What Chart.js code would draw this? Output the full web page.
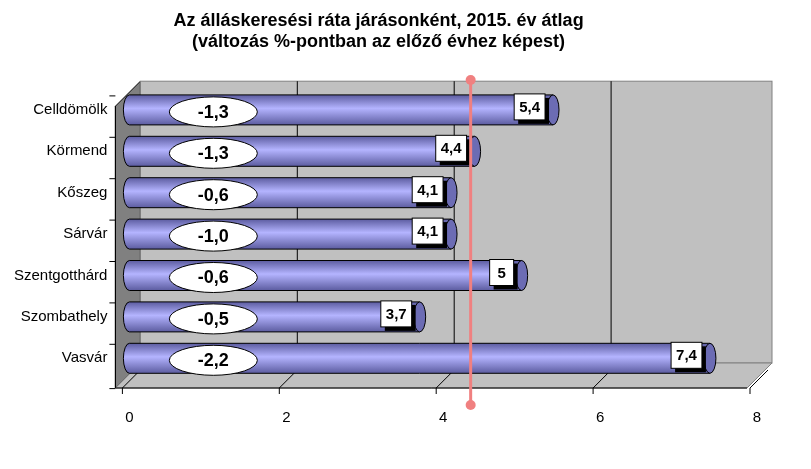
<!DOCTYPE html><html><head><meta charset="utf-8">
<script src="https://cdn.jsdelivr.net/npm/chart.js@4"></script>
<style>body{margin:0;background:#fff}#w{width:811px;height:469px}</style></head><body><div id="w"><canvas id="c"></canvas></div>
<script>
const categories=['Celldömölk','Körmend','Kőszeg','Sárvár','Szentgotthárd','Szombathely','Vasvár'];
const values=[5.4,4.4,4.1,4.1,5,3.7,7.4];
const valueLabels=['5,4','4,4','4,1','4,1','5','3,7','7,4'];
const changeLabels=['-1,3','-1,3','-0,6','-1,0','-0,6','-0,5','-2,2'];
const averageLine=[4.35];
const xTicks=[0,2,4,6,8];
const DEP=25;
const deco={id:'deco',
beforeDatasetsDraw(ch){const c=ch.ctx,a=ch.chartArea,x=ch.scales.x;c.save();
 const L=x.getPixelForValue(0)-7+DEP-7,R=x.getPixelForValue(8)+15,T=a.top-8,B=a.bottom-16;
 c.fillStyle='#808080';c.beginPath();c.moveTo(L-DEP,T+DEP);c.lineTo(L,T);c.lineTo(L,B);c.lineTo(L-DEP,B+DEP);c.closePath();c.fill();
 c.strokeStyle='#000';c.lineWidth=1;c.stroke();
 c.fillStyle='#c0c0c0';c.fillRect(L,T,R-L,B-T);
 c.strokeStyle='#808080';c.strokeRect(L,T,R-L,B-T);
 c.strokeStyle='#000';
 xTicks.slice(1,4).forEach(v=>{const p=x.getPixelForValue(v)-7+DEP-7;c.beginPath();c.moveTo(p,T);c.lineTo(p,B);c.stroke();});
 c.fillStyle='#c0c0c0';c.beginPath();c.moveTo(L,B);c.lineTo(R,B);c.lineTo(R-DEP,B+DEP);c.lineTo(L-DEP,B+DEP);c.closePath();c.fill();
 c.strokeStyle='#808080';c.stroke();
 c.strokeStyle='#000';c.beginPath();c.moveTo(L-DEP,T+DEP);c.lineTo(L-DEP,B+DEP);c.lineTo(R-DEP,B+DEP);c.stroke();
 xTicks.forEach(v=>{const p=x.getPixelForValue(v)-7;c.beginPath();c.moveTo(p,B+DEP+6);c.lineTo(p,B+DEP);c.lineTo(p+DEP-7,B+7);c.stroke();});
 const y=ch.scales.y;for(let i=0;i<=categories.length;i++){const p=(i<categories.length?y.getPixelForValue(i):y.getPixelForValue(i-1)+44.3)-22+8;c.beginPath();c.moveTo(L-DEP-6,p);c.lineTo(L-DEP,p);c.stroke();}
 c.restore();},
afterDatasetsDraw(ch){const c=ch.ctx,x=ch.scales.x;c.save();
 ch.getDatasetMeta(0).data.forEach((b,i)=>{const h=30,yc=b.y,xe=b.x,x0=b.base;
  const g=c.createLinearGradient(0,yc-h/2,0,yc+h/2);g.addColorStop(0,'#5c5ca0');g.addColorStop(0.45,'#b4b4ff');g.addColorStop(1,'#5c5ca0');
  c.fillStyle=g;c.beginPath();c.ellipse(x0,yc,6,h/2,0,Math.PI/2,Math.PI*1.5);c.lineTo(xe,yc-h/2);c.lineTo(xe,yc+h/2);c.closePath();c.fill();
  c.strokeStyle='#000';c.lineWidth=1;c.stroke();
  c.fillStyle='#6c6cb4';c.beginPath();c.ellipse(xe,yc,6,h/2,0,0,2*Math.PI);c.fill();c.stroke();
  const ex=x.getPixelForValue(1.07);
  c.fillStyle='#fff';c.beginPath();c.ellipse(ex,yc+2,44,15,0,0,2*Math.PI);c.fill();c.stroke();
  c.fillStyle='#000';c.font='bold 18px Arial';c.textAlign='center';c.textBaseline='middle';c.fillText(changeLabels[i],ex,yc+3);
  const t=valueLabels[i];c.font='bold 15px Arial';const w=Math.max(c.measureText(t).width+10,24),bh=26;const bx=xe-8-w,by=yc-16;
  c.fillStyle='#000';c.fillRect(bx+4,by+4,w,bh);c.fillStyle='#fff';c.fillRect(bx,by,w,bh);c.strokeRect(bx,by,w,bh);
  c.fillStyle='#000';c.fillText(t,bx+w/2,by+bh/2+1);
 });
 const px=x.getPixelForValue(averageLine[0]);c.strokeStyle='#f08080';c.fillStyle='#f08080';c.lineWidth=3;
 c.beginPath();c.moveTo(px,80);c.lineTo(px,405);c.stroke();
 [80,405].forEach(v=>{c.beginPath();c.arc(px,v,5,0,2*Math.PI);c.fill();});
 c.restore();}};
new Chart(document.getElementById('c'),{type:'bar',
 data:{labels:categories,datasets:[{data:values,barThickness:30,borderWidth:0,backgroundColor:'rgba(0,0,0,0)'}]},
 options:{indexAxis:'y',responsive:true,maintainAspectRatio:false,animation:false,
  layout:{padding:{left:0,right:54,top:0,bottom:20}},
  plugins:{legend:{display:false},tooltip:{enabled:false},
   title:{display:true,text:['Az álláskeresési ráta járásonként, 2015. év átlag','(változás %-pontban az előző évhez képest)'],color:'#000',font:{family:'Arial',size:18,weight:'bold'},lineHeight:1.3,padding:{top:10,bottom:36},align:'center'}},
  scales:{x:{min:0,max:8,ticks:{stepSize:2,color:'#000',font:{family:'Arial',size:15},padding:22},grid:{display:false},border:{display:false}},
   y:{ticks:{color:'#000',font:{family:'Arial',size:15},padding:14},grid:{display:false},border:{display:false}}}},
 plugins:[deco]});
</script></body></html>
